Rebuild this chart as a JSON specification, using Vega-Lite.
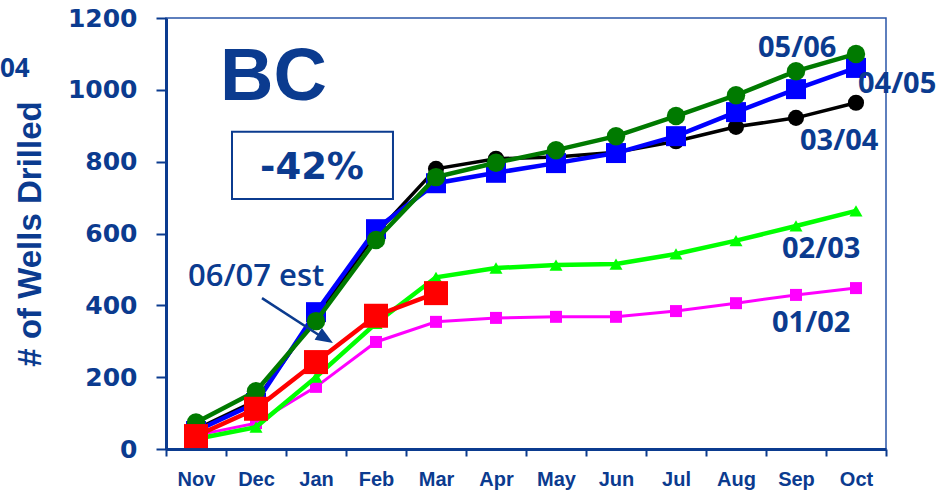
{
  "$schema": "https://vega.github.io/schema/vega-lite/v6.json",
  "width": 720,
  "height": 431,
  "autosize": {"type": "none"},
  "padding": {"left": 166, "top": 18, "right": 55, "bottom": 42},
  "background": "white",
  "config": {"view": {"stroke": "#2a56a8", "strokeWidth": 1.5}, "axis": {"grid": false}},
  "resolve": {"scale": {"x": "independent"}},
  "layer": [
    {
      "data": {"values": [
        {"month": "Nov", "season": "01/02", "wells": 38}, {"month": "Dec", "season": "01/02", "wells": 72}, {"month": "Jan", "season": "01/02", "wells": 173}, {"month": "Feb", "season": "01/02", "wells": 298}, {"month": "Mar", "season": "01/02", "wells": 354}, {"month": "Apr", "season": "01/02", "wells": 365}, {"month": "May", "season": "01/02", "wells": 368}, {"month": "Jun", "season": "01/02", "wells": 368}, {"month": "Jul", "season": "01/02", "wells": 384}, {"month": "Aug", "season": "01/02", "wells": 406}, {"month": "Sep", "season": "01/02", "wells": 429}, {"month": "Oct", "season": "01/02", "wells": 448},
        {"month": "Nov", "season": "02/03", "wells": 28}, {"month": "Dec", "season": "02/03", "wells": 61}, {"month": "Jan", "season": "02/03", "wells": 200}, {"month": "Feb", "season": "02/03", "wells": 350}, {"month": "Mar", "season": "02/03", "wells": 478}, {"month": "Apr", "season": "02/03", "wells": 504}, {"month": "May", "season": "02/03", "wells": 512}, {"month": "Jun", "season": "02/03", "wells": 515}, {"month": "Jul", "season": "02/03", "wells": 543}, {"month": "Aug", "season": "02/03", "wells": 580}, {"month": "Sep", "season": "02/03", "wells": 621}, {"month": "Oct", "season": "02/03", "wells": 663},
        {"month": "Nov", "season": "03/04", "wells": 55}, {"month": "Dec", "season": "03/04", "wells": 135}, {"month": "Jan", "season": "03/04", "wells": 370}, {"month": "Feb", "season": "03/04", "wells": 600}, {"month": "Mar", "season": "03/04", "wells": 780}, {"month": "Apr", "season": "03/04", "wells": 808}, {"month": "May", "season": "03/04", "wells": 813}, {"month": "Jun", "season": "03/04", "wells": 826}, {"month": "Jul", "season": "03/04", "wells": 857}, {"month": "Aug", "season": "03/04", "wells": 897}, {"month": "Sep", "season": "03/04", "wells": 922}, {"month": "Oct", "season": "03/04", "wells": 964},
        {"month": "Nov", "season": "04/05", "wells": 50}, {"month": "Dec", "season": "04/05", "wells": 128}, {"month": "Jan", "season": "04/05", "wells": 381}, {"month": "Feb", "season": "04/05", "wells": 612}, {"month": "Mar", "season": "04/05", "wells": 740}, {"month": "Apr", "season": "04/05", "wells": 769}, {"month": "May", "season": "04/05", "wells": 796}, {"month": "Jun", "season": "04/05", "wells": 824}, {"month": "Jul", "season": "04/05", "wells": 871}, {"month": "Aug", "season": "04/05", "wells": 938}, {"month": "Sep", "season": "04/05", "wells": 1002}, {"month": "Oct", "season": "04/05", "wells": 1061},
        {"month": "Nov", "season": "05/06", "wells": 74}, {"month": "Dec", "season": "05/06", "wells": 161}, {"month": "Jan", "season": "05/06", "wells": 356}, {"month": "Feb", "season": "05/06", "wells": 582}, {"month": "Mar", "season": "05/06", "wells": 757}, {"month": "Apr", "season": "05/06", "wells": 797}, {"month": "May", "season": "05/06", "wells": 832}, {"month": "Jun", "season": "05/06", "wells": 871}, {"month": "Jul", "season": "05/06", "wells": 927}, {"month": "Aug", "season": "05/06", "wells": 985}, {"month": "Sep", "season": "05/06", "wells": 1052}, {"month": "Oct", "season": "05/06", "wells": 1100},
        {"month": "Nov", "season": "06/07 est", "wells": 36}, {"month": "Dec", "season": "06/07 est", "wells": 112}, {"month": "Jan", "season": "06/07 est", "wells": 242}, {"month": "Feb", "season": "06/07 est", "wells": 371}, {"month": "Mar", "season": "06/07 est", "wells": 434}
      ]},
      "encoding": {
        "x": {
          "field": "month", "type": "ordinal",
          "sort": ["Nov", "Dec", "Jan", "Feb", "Mar", "Apr", "May", "Jun", "Jul", "Aug", "Sep", "Oct"],
          "scale": {"type": "band", "domain": ["Nov", "Dec", "Jan", "Feb", "Mar", "Apr", "May", "Jun", "Jul", "Aug", "Sep", "Oct"], "paddingInner": 0, "paddingOuter": 0},
          "axis": {"title": null, "labelAngle": 0, "labelFont": "Liberation Sans", "labelFontWeight": "bold", "labelFontSize": 20, "labelColor": "#0b3b8f", "labelPadding": 13, "tickBand": "extent", "tickSize": 7, "tickWidth": 2, "tickColor": "#0b3b8f", "domainColor": "#0b3b8f", "domainWidth": 3}
        },
        "y": {
          "field": "wells", "type": "quantitative",
          "scale": {"domain": [0, 1200], "nice": false, "zero": true},
          "axis": {"title": "# of Wells Drilled", "format": "d", "values": [0, 200, 400, 600, 800, 1000, 1200], "labelFont": "DejaVu Sans", "labelFontWeight": "bold", "labelFontSize": 25, "labelColor": "#0b3b8f", "labelPadding": 19, "tickSize": 10, "tickWidth": 2, "tickColor": "#0b3b8f", "domainColor": "#0b3b8f", "domainWidth": 3, "titleFont": "Liberation Sans", "titleFontSize": 33, "titleFontWeight": "bold", "titleColor": "#0b3b8f", "titleX": -126, "titleY": 215.5, "titleAngle": -90, "titleAlign": "center", "titleBaseline": "alphabetic"}
        }
      },
      "layer": [
        {"transform": [{"filter": "datum.season === '01/02'"}], "mark": {"type": "line", "color": "#ff00ff", "strokeWidth": 3, "point": {"shape": "square", "size": 144, "filled": true, "opacity": 1, "color": "#ff00ff"}}},
        {"transform": [{"filter": "datum.season === '02/03'"}], "mark": {"type": "line", "color": "#00ff00", "strokeWidth": 4.5, "point": {"shape": "triangle-up", "size": 170, "filled": true, "opacity": 1, "color": "#00ff00"}}},
        {"transform": [{"filter": "datum.season === '03/04'"}], "mark": {"type": "line", "color": "#000000", "strokeWidth": 3.5, "point": {"shape": "circle", "size": 260, "filled": true, "opacity": 1, "color": "#000000"}}},
        {"transform": [{"filter": "datum.season === '04/05'"}], "mark": {"type": "line", "color": "#0000ff", "strokeWidth": 4.5, "point": {"shape": "square", "size": 400, "filled": true, "opacity": 1, "color": "#0000ff"}}},
        {"transform": [{"filter": "datum.season === '05/06'"}], "mark": {"type": "line", "color": "#007a00", "strokeWidth": 4.5, "point": {"shape": "circle", "size": 340, "filled": true, "opacity": 1, "color": "#007a00"}}},
        {"transform": [{"filter": "datum.season === '06/07 est'"}], "mark": {"type": "line", "color": "#ff0000", "strokeWidth": 4.5, "point": {"shape": "square", "size": 576, "filled": true, "opacity": 1, "color": "#ff0000"}}}
      ]
    },
    {
      "layer": [
        {
          "data": {"values": [
            {"xq": 9.867, "wells": 1091, "label": "05/06"},
            {"xq": 11.533, "wells": 991, "label": "04/05"},
            {"xq": 10.567, "wells": 832, "label": "03/04"},
            {"xq": 10.267, "wells": 532, "label": "02/03"},
            {"xq": 10.1, "wells": 326, "label": "01/02"}
          ]},
          "mark": {"type": "text", "font": "Open Sans", "fontWeight": "bold", "fontSize": 29, "color": "#0b3b8f", "align": "left", "baseline": "alphabetic"},
          "encoding": {
            "x": {"field": "xq", "type": "quantitative", "scale": {"domain": [0, 12], "nice": false, "zero": false}, "axis": null},
            "y": {"field": "wells", "type": "quantitative"},
            "text": {"field": "label"}
          }
        },
        {
          "data": {"values": [{"xq": -2.767, "wells": 1036, "label": "04"}]},
          "mark": {"type": "text", "font": "Open Sans", "fontWeight": "bold", "fontSize": 26, "color": "#0b3b8f", "align": "left", "baseline": "alphabetic"},
          "encoding": {
            "x": {"field": "xq", "type": "quantitative", "scale": {"domain": [0, 12], "nice": false, "zero": false}, "axis": null},
            "y": {"field": "wells", "type": "quantitative"},
            "text": {"field": "label"}
          }
        },
        {
          "data": {"values": [{"xq": 0.367, "wells": 454, "label": "06/07 est"}]},
          "mark": {"type": "text", "font": "Open Sans", "fontWeight": 600, "fontSize": 31, "color": "#0b3b8f", "align": "left", "baseline": "alphabetic"},
          "encoding": {
            "x": {"field": "xq", "type": "quantitative", "scale": {"domain": [0, 12], "nice": false, "zero": false}, "axis": null},
            "y": {"field": "wells", "type": "quantitative"},
            "text": {"field": "label"}
          }
        },
        {
          "data": {"values": [{"xq": 0.9, "wells": 972, "label": "BC"}]},
          "mark": {"type": "text", "font": "Liberation Sans", "fontWeight": "bold", "fontSize": 74, "color": "#0b3b8f", "align": "left", "baseline": "alphabetic"},
          "encoding": {
            "x": {"field": "xq", "type": "quantitative", "scale": {"domain": [0, 12], "nice": false, "zero": false}, "axis": null},
            "y": {"field": "wells", "type": "quantitative"},
            "text": {"field": "label"}
          }
        },
        {
          "data": {"values": [{"xq": 1.1, "xq2": 3.783, "wells": 883, "wells2": 696}]},
          "mark": {"type": "rect", "fill": "white", "fillOpacity": 0, "stroke": "#0b3b8f", "strokeWidth": 2},
          "encoding": {
            "x": {"field": "xq", "type": "quantitative", "scale": {"domain": [0, 12], "nice": false, "zero": false}, "axis": null},
            "x2": {"field": "xq2"},
            "y": {"field": "wells", "type": "quantitative"},
            "y2": {"field": "wells2"}
          }
        },
        {
          "data": {"values": [{"xq": 2.433, "wells": 752, "label": "-42%"}]},
          "mark": {"type": "text", "font": "DejaVu Sans", "fontWeight": "bold", "fontSize": 37, "color": "#0b3b8f", "align": "center", "baseline": "alphabetic"},
          "encoding": {
            "x": {"field": "xq", "type": "quantitative", "scale": {"domain": [0, 12], "nice": false, "zero": false}, "axis": null},
            "y": {"field": "wells", "type": "quantitative"},
            "text": {"field": "label"}
          }
        },
        {
          "data": {"values": [{"xq": 1.6, "xq2": 2.56, "wells": 420, "wells2": 316}]},
          "mark": {"type": "rule", "color": "#0b3b8f", "strokeWidth": 2.5},
          "encoding": {
            "x": {"field": "xq", "type": "quantitative", "scale": {"domain": [0, 12], "nice": false, "zero": false}, "axis": null},
            "x2": {"field": "xq2"},
            "y": {"field": "wells", "type": "quantitative"},
            "y2": {"field": "wells2"}
          }
        },
        {
          "data": {"values": [{"xq": 2.66, "wells": 308}]},
          "mark": {"type": "point", "shape": "M0.85,0.53L-1.27,0.15L-0.43,-1.21Z", "size": 300, "filled": true, "opacity": 1, "color": "#0b3b8f"},
          "encoding": {
            "x": {"field": "xq", "type": "quantitative", "scale": {"domain": [0, 12], "nice": false, "zero": false}, "axis": null},
            "y": {"field": "wells", "type": "quantitative"}
          }
        }
      ]
    }
  ]
}
